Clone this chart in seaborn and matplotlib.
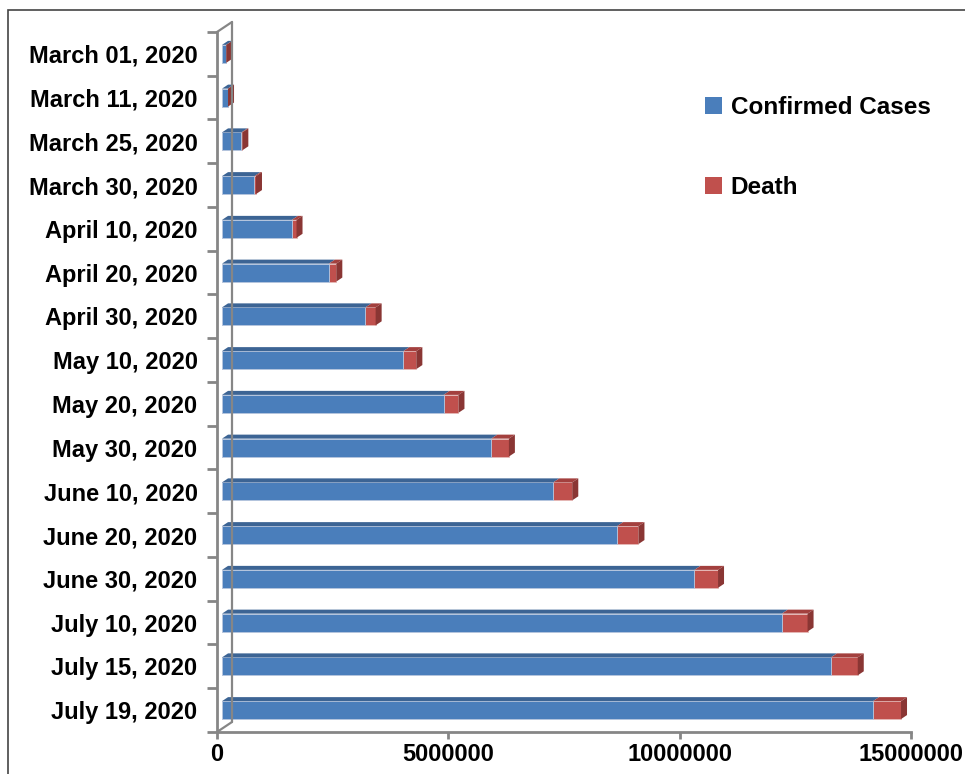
import numpy as np
import pandas as pd
import matplotlib
matplotlib.use('Agg')
import matplotlib.pyplot as plt
import seaborn as sns
from matplotlib.patches import Polygon, Patch, Rectangle
from matplotlib.lines import Line2D
from matplotlib.transforms import ScaledTranslation

# 데이터
dates = ["March 01, 2020", "March 11, 2020", "March 25, 2020", "March 30, 2020",
         "April 10, 2020", "April 20, 2020", "April 30, 2020", "May 10, 2020",
         "May 20, 2020", "May 30, 2020", "June 10, 2020", "June 20, 2020",
         "June 30, 2020", "July 10, 2020", "July 15, 2020", "July 19, 2020"]
confirmed = [88000, 125000, 420000, 700000, 1510000, 2310000, 3100000, 3920000,
             4790000, 5820000, 7160000, 8540000, 10210000, 12100000, 13160000, 14070000]
death = [3000, 4600, 19000, 34000, 100000, 160000, 220000, 280000,
         320000, 380000, 410000, 460000, 510000, 555000, 580000, 605000]
x_ticks = [0, 5000000, 10000000, 15000000]

df = pd.DataFrame({'date': dates, 'confirmed': confirmed, 'death': death})
df['total'] = df['confirmed'] + df['death']

blue, blue_top = '#4A7EBB', '#3C6494'
red, red_top, red_side = '#C0504D', '#A3403E', '#8A3634'
gray = '#868686'

sns.set_theme(style='white')
plt.rcParams['font.family'] = ['Liberation Sans', 'DejaVu Sans']
plt.rcParams['font.weight'] = 'bold'
plt.rcParams['text.color'] = 'black'

fig = plt.figure(figsize=(9.65, 7.74), dpi=100)
ax = fig.add_axes([0.2249, 0.0543, 0.7192, 0.9044])

# 누적 막대: 전체(빨강) 위에 확진(파랑)
sns.barplot(data=df, y='date', x='total', color=red, width=0.41, saturation=1,
            errorbar=None, ax=ax, edgecolor='#E6B9B8', linewidth=0.6)
sns.barplot(data=df, y='date', x='confirmed', color=blue, width=0.41, saturation=1,
            errorbar=None, ax=ax, edgecolor='#B9CDE5', linewidth=0.6)

n = len(dates)
ax.set_xlim(0, 15000000)
ax.set_ylim(n - 0.5, -0.5)

# 3D 느낌 (픽셀 오프셋)
shift = 5.0
dx, dy = 6.0, 4.0
bars = list(ax.patches)
red_bars, blue_bars = bars[:n], bars[n:]
inv = ax.transData.inverted()
for p in bars:
    p.set_transform(ax.transData + ScaledTranslation(shift / 100, 0, fig.dpi_scale_trans))


def disp(x, y):
    px, py = ax.transData.transform((x, y))
    return px + shift, py


for rb, bb in zip(red_bars, blue_bars):
    y0, y1 = rb.get_y(), rb.get_y() + rb.get_height()
    xb = bb.get_width()
    xt = rb.get_width()
    # 화면상 위쪽 모서리
    top_y = y0 if disp(0, y0)[1] > disp(0, y1)[1] else y1
    bot_y = y1 if top_y == y0 else y0
    a = disp(0, top_y)
    b = disp(xb, top_y)
    c = disp(xt, top_y)
    d = disp(xt, bot_y)
    faces = [
        ([a, b, (b[0] + dx, b[1] + dy), (a[0] + dx, a[1] + dy)], blue_top),
        ([b, c, (c[0] + dx, c[1] + dy), (b[0] + dx, b[1] + dy)], red_top),
        ([c, d, (d[0] + dx, d[1] + dy), (c[0] + dx, c[1] + dy)], red_side),
    ]
    for verts, col in faces:
        ax.add_patch(Polygon(inv.transform(verts), closed=True, facecolor=col,
                             edgecolor='none', zorder=3))

# 축
for s in ['top', 'right']:
    ax.spines[s].set_visible(False)
for s in ['left', 'bottom']:
    ax.spines[s].set_color(gray)
    ax.spines[s].set_linewidth(2)

ax.set_xlabel('')
ax.set_ylabel('')
ax.set_yticks(range(n), labels=dates)
ax.set_yticks(np.arange(-0.5, n, 1), minor=True)
ax.tick_params(axis='y', which='major', length=0, pad=14, labelsize=17)
ax.tick_params(axis='y', which='minor', length=7, width=2, color=gray, left=True)
ax.set_xticks(x_ticks, labels=[str(v) for v in x_ticks])
ax.tick_params(axis='x', which='major', length=5, width=2, color=gray, bottom=True,
               pad=3, labelsize=17)
for t in ax.get_xticklabels() + ax.get_yticklabels():
    t.set_fontweight('bold')
    t.set_color('black')

# 뒷벽 선
pos = ax.get_position()
ox, oy = 15 / 965, 10 / 774
wall = dict(color=gray, lw=1.6, transform=fig.transFigure)
fig.add_artist(Line2D([pos.x0 + ox, pos.x0 + ox], [pos.y0 + oy, pos.y1 + oy], **wall))
fig.add_artist(Line2D([pos.x0, pos.x0 + ox], [pos.y1, pos.y1 + oy], **wall))
fig.add_artist(Line2D([pos.x0, pos.x0 + ox], [pos.y0, pos.y0 + oy], **wall))

# 범례
handles = [Patch(facecolor=blue, edgecolor='none'), Patch(facecolor=red, edgecolor='none')]
leg = fig.legend(handles, ['Confirmed Cases', 'Death'], loc='upper left',
                 bbox_to_anchor=(705 / 965, 1 - 96 / 774), frameon=False,
                 prop={'weight': 'bold', 'size': 17.5}, handlelength=0.7, handleheight=0.7,
                 handletextpad=0.35, labelspacing=2.35, borderpad=0, borderaxespad=0)
for t in leg.get_texts():
    t.set_color('black')

# 테두리
fig.add_artist(Rectangle((8 / 965, -0.05), 1.1, 1 - 10 / 774 + 0.05, transform=fig.transFigure,
                         fill=False, edgecolor='#444444', lw=1.2))

fig.savefig('out.png', dpi=100)
